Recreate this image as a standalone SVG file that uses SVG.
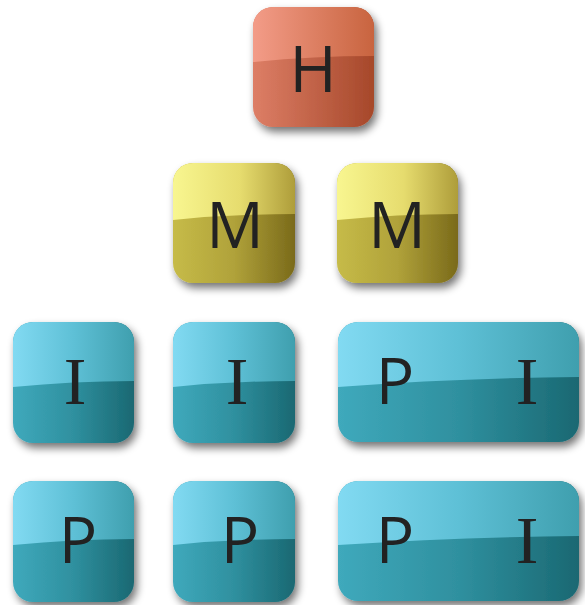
<svg xmlns="http://www.w3.org/2000/svg" width="585" height="605" viewBox="0 0 585 605">
<defs>
  <linearGradient id="hTop" x1="0" y1="0" x2="1" y2="0"><stop offset="0" stop-color="#F39C88"/><stop offset="1" stop-color="#C8643F"/></linearGradient>
  <linearGradient id="hBot" x1="0" y1="0" x2="1" y2="0"><stop offset="0" stop-color="#DD7E66"/><stop offset="1" stop-color="#A6482A"/></linearGradient>
  <linearGradient id="mTop" x1="0" y1="0" x2="1" y2="0"><stop offset="0" stop-color="#F8F690"/><stop offset="0.55" stop-color="#E6DC6E"/><stop offset="1" stop-color="#AE9D3A"/></linearGradient>
  <linearGradient id="mBot" x1="0" y1="0" x2="1" y2="0"><stop offset="0" stop-color="#C6BB48"/><stop offset="0.5" stop-color="#B0A23A"/><stop offset="1" stop-color="#7A6A1A"/></linearGradient>
  <linearGradient id="bTop" x1="0" y1="0" x2="1" y2="0"><stop offset="0" stop-color="#82DAF2"/><stop offset="0.5" stop-color="#5EC0D6"/><stop offset="1" stop-color="#3F9FAE"/></linearGradient>
  <linearGradient id="bBot" x1="0" y1="0" x2="1" y2="0"><stop offset="0" stop-color="#3FA9BC"/><stop offset="0.5" stop-color="#2F909F"/><stop offset="1" stop-color="#1A6872"/></linearGradient>
  <filter id="sh" x="-20%" y="-20%" width="150%" height="150%">
    <feGaussianBlur in="SourceAlpha" stdDeviation="4"/>
    <feOffset dx="3" dy="5" result="b"/>
    <feComponentTransfer><feFuncA type="linear" slope="0.55"/></feComponentTransfer>
    <feMerge><feMergeNode/><feMergeNode in="SourceGraphic"/></feMerge>
  </filter>
</defs>
<style>
  .lbl{font-family:"Open Sans","DejaVu Sans",sans-serif;font-size:64px;fill:#222;text-anchor:middle}
  .ser{font-family:"Liberation Serif",serif;font-size:68px;fill:#222;text-anchor:middle}
</style>

<g id="connectors"></g>

<g id="node-H">
  <rect x="253" y="7" width="121" height="120" rx="20" fill="url(#hBot)" filter="url(#sh)"/>
  <path d="M253,62 L253,27 A20,20 0 0 1 273,7 H354 A20,20 0 0 1 374,27 L374,56 Q313,56 253,62 Z" fill="url(#hTop)"/>
  <text class="lbl" x="313" y="92">H</text>
</g>

<g id="node-M1">
  <rect x="173" y="163" width="122" height="120" rx="20" fill="url(#mBot)" filter="url(#sh)"/>
  <path d="M173,220 L173,183 A20,20 0 0 1 193,163 H275 A20,20 0 0 1 295,183 L295,214 Q234,214 173,220 Z" fill="url(#mTop)"/>
  <text class="lbl" x="235" y="248">M</text>
</g>

<g id="node-M2">
  <rect x="337" y="163" width="121" height="120" rx="20" fill="url(#mBot)" filter="url(#sh)"/>
  <path d="M337,220 L337,183 A20,20 0 0 1 357,163 H438 A20,20 0 0 1 458,183 L458,214 Q397,214 337,220 Z" fill="url(#mTop)"/>
  <text class="lbl" x="397" y="248">M</text>
</g>

<g id="node-I1">
  <rect x="13" y="322" width="121" height="121" rx="20" fill="url(#bBot)" filter="url(#sh)"/>
  <path d="M13,387 L13,342 A20,20 0 0 1 33,322 H114 A20,20 0 0 1 134,342 L134,381 Q73,381 13,387 Z" fill="url(#bTop)"/>
  <text class="ser" x="75" y="404">I</text>
</g>

<g id="node-I2">
  <rect x="173" y="322" width="122" height="121" rx="20" fill="url(#bBot)" filter="url(#sh)"/>
  <path d="M173,387 L173,342 A20,20 0 0 1 193,322 H275 A20,20 0 0 1 295,342 L295,381 Q234,381 173,387 Z" fill="url(#bTop)"/>
  <text class="ser" x="237" y="404">I</text>
</g>

<g id="node-PI1">
  <rect x="338" y="322" width="241" height="120" rx="20" fill="url(#bBot)" filter="url(#sh)"/>
  <path d="M338,387 L338,342 A20,20 0 0 1 358,322 H559 A20,20 0 0 1 579,342 L579,377 Q458,378 338,387 Z" fill="url(#bTop)"/>
  <text class="lbl" x="395" y="404">P</text>
  <text class="ser" x="527" y="404">I</text>
</g>

<g id="node-P1">
  <rect x="13" y="481" width="121" height="121" rx="20" fill="url(#bBot)" filter="url(#sh)"/>
  <path d="M13,545 L13,501 A20,20 0 0 1 33,481 H114 A20,20 0 0 1 134,501 L134,539 Q73,539 13,545 Z" fill="url(#bTop)"/>
  <text class="lbl" x="78" y="563">P</text>
</g>

<g id="node-P2">
  <rect x="173" y="481" width="122" height="121" rx="20" fill="url(#bBot)" filter="url(#sh)"/>
  <path d="M173,545 L173,501 A20,20 0 0 1 193,481 H275 A20,20 0 0 1 295,501 L295,539 Q234,539 173,545 Z" fill="url(#bTop)"/>
  <text class="lbl" x="240" y="563">P</text>
</g>

<g id="node-PI2">
  <rect x="338" y="481" width="241" height="120" rx="20" fill="url(#bBot)" filter="url(#sh)"/>
  <path d="M338,545 L338,501 A20,20 0 0 1 358,481 H559 A20,20 0 0 1 579,501 L579,536 Q458,537 338,545 Z" fill="url(#bTop)"/>
  <text class="lbl" x="395" y="563">P</text>
  <text class="ser" x="527" y="563">I</text>
</g>
</svg>
